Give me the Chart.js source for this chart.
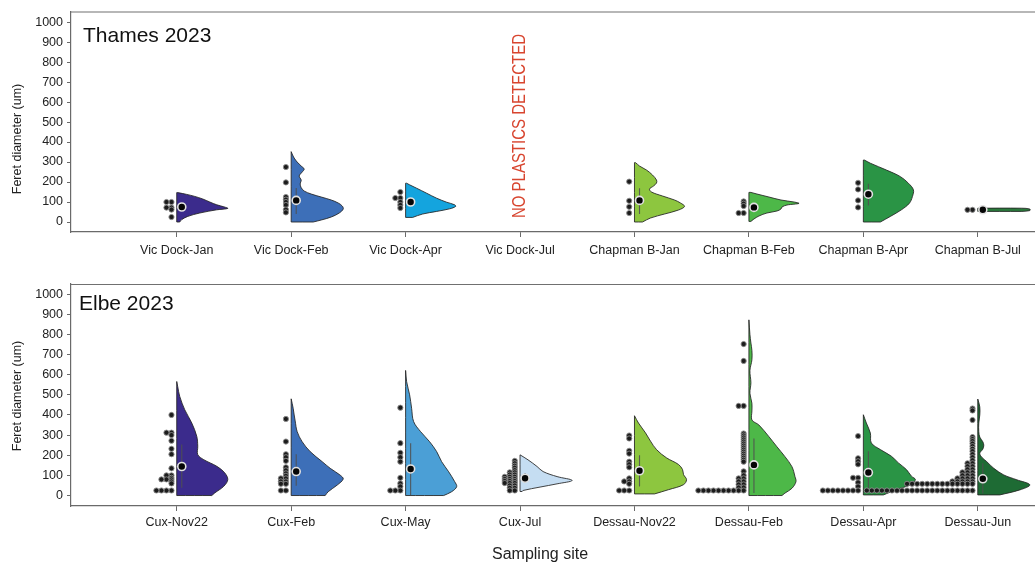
<!DOCTYPE html>
<html>
<head>
<meta charset="utf-8">
<script src="https://cdn.jsdelivr.net/npm/chart.js@4.4.1/dist/chart.umd.min.js"></script>
<style>
  html, body { margin: 0; padding: 0; background: #fff; overflow: hidden; }
  #wrap { position: relative; width: 1035px; height: 562px; }
  canvas { position: absolute; left: 0; display: block; }
  #thames { top: 0; }
  #elbe { top: 262px; }
</style>
</head>
<body>
<div id="wrap">
  <canvas id="thames" width="1035" height="262"></canvas>
  <canvas id="elbe" width="1035" height="300"></canvas>
</div>
<script>
// ---------- categories ----------
const thamesSites = ['Vic Dock-Jan', 'Vic Dock-Feb', 'Vic Dock-Apr', 'Vic Dock-Jul',
                     'Chapman B-Jan', 'Chapman B-Feb', 'Chapman B-Apr', 'Chapman B-Jul'];
const elbeSites = ['Cux-Nov22', 'Cux-Feb', 'Cux-May', 'Cux-Jul',
                   'Dessau-Nov22', 'Dessau-Feb', 'Dessau-Apr', 'Dessau-Jun'];
const yTickValues = [0, 100, 200, 300, 400, 500, 600, 700, 800, 900, 1000];

// ---------- particle sizes (Feret diameter, um) ----------
const ptsVicDockJan = [100, 100, 72, 72, 62, 25];
const ptsVicDockFeb = [275, 198, 125, 112, 100, 85, 62, 48];
const ptsVicDockApr = [150, 120, 120, 100, 85, 70];
const ptsChapmanJan = [202, 106, 76, 45];
const ptsChapmanFeb = [103, 92, 80, 45, 45];
const ptsChapmanApr = [196, 163, 108, 73];
const ptsChapmanJul = [61, 61];

const ptsCuxNov22 = [400, 312, 312, 300, 272, 232, 205, 135, 100, 100, 88, 80, 80, 80, 70, 60, 25, 25, 25, 25];
const ptsCuxFeb = [380, 268, 205, 190, 172, 140, 125, 110, 98, 85, 85, 70, 70, 58, 58, 25, 25];
const ptsCuxMay = [436, 260, 212, 190, 168, 88, 60, 45, 25, 25, 25];
const ptsCuxJul = [172, 160, 148, 138, 126, 115, 115, 104, 104, 93, 93, 93, 82, 82, 82,
                   72, 72, 72, 62, 62, 62, 50, 50, 38, 38, 25, 25];
const ptsDessauNov22 = [298, 283, 222, 208, 168, 155, 140, 85, 70, 70, 58, 25, 25, 25];
const ptsDessauFeb = [752, 668, 445, 445, 308, 298, 288, 278, 268, 258, 248, 238, 228, 218, 208,
                      198, 188, 178, 168, 120, 100, 85, 85, 70, 70, 55, 55, 40, 40,
                      25, 25, 25, 25, 25, 25, 25, 25, 25, 25];
const ptsDessauApr = [295, 185, 170, 155, 88, 88, 65, 45, 25, 25, 25, 25, 25, 25, 25, 25];
const ptsDessauJun = [432, 422, 375, 290, 280, 270, 258, 245, 232, 220, 205, 190, 175, 160, 160,
                      145, 145, 130, 130, 115, 115, 115, 100, 100, 100, 85, 85, 85, 85,
                      70, 70, 70, 70, 70,
                      58, 58, 58, 58, 58, 58, 58, 58, 58, 58, 58, 58, 58, 58,
                      25, 25, 25, 25, 25, 25, 25, 25, 25, 25, 25, 25, 25, 25, 25, 25, 25, 25, 25, 25, 25, 25];

// ---------- density profiles: [Feret diameter, relative density (52 = widest)] ----------
const densVicDockJan = [[0,3],[12,5],[28,11],[45,23],[61,40],[68,51],[76,47],[86,40],[100,33],[115,26],[128,18],[138,10],[147,1]];
const densVicDockFeb = [[0,22],[10,30],[25,40],[45,48],[65,52],[80,51],[95,47],[110,40],[125,30],[140,20],[155,13],[172,10],[190,9],[210,10],[230,8],[250,11],[265,13],[280,10],[300,6],[320,3],[340,1],[352,0]];
const densVicDockApr = [[23,7],[40,17],[53,31],[66,44],[78,50],[86,49],[99,41],[119,31],[144,21],[169,11],[186,4],[194,1]];
const densChapmanJan = [[0,8],[20,16],[40,30],[60,44],[78,50],[95,46],[110,40],[130,28],[150,17],[165,15],[180,19],[195,22],[210,22],[235,18],[260,12],[280,5],[297,1]];
const densChapmanFeb = [[3,2],[15,5],[30,10],[45,18],[55,28],[65,32],[75,33],[85,38],[93,50],[100,45],[110,32],[125,20],[140,8],[148,2]];
const densChapmanApr = [[0,17],[28,27],[61,38],[94,46],[127,49],[161,50],[194,45],[227,37],[260,23],[294,7],[310,1]];
const densChapmanJul = [[53,44],[57,52],[65,52],[69,44]];

const densCuxNov22 = [[0,35],[13,38],[46,47],[79,51],[112,48],[145,40],[178,27],[203,21],[245,21],[294,20],[360,15],[426,8],[492,3],[540,1],[566,0]];
const densCuxFeb = [[0,34],[19,37],[52,46],[82,52],[101,49],[135,39],[168,31],[218,19],[267,11],[317,6],[370,4],[400,3],[433,2],[480,0]];
const densCuxMay = [[0,38],[19,46],[44,51],[69,49],[118,43],[168,36],[218,31],[267,24],[317,15],[367,8],[433,6],[500,4],[566,1],[621,0]];
const densCuxJul = [[20,2],[25,3],[42,20],[58,37],[75,52],[94,37],[119,23],[144,17],[177,8],[202,0]];
const densDessauNov22 = [[8,20],[29,34],[54,49],[79,52],[104,49],[129,48],[154,44],[187,32],[228,22],[270,16],[311,11],[360,4],[396,0]];
const densDessauFeb = [[0,33],[12,36],[36,43],[69,47],[94,46],[143,43],[193,36],[242,28],[292,20],[350,10],[375,3],[420,3],[458,3],[508,1],[560,2],[620,1],[674,3],[720,3],[757,2],[800,1],[872,0]];
const densDessauApr = [[3,20],[29,33],[54,47],[79,52],[96,48],[129,43],[162,35],[195,28],[228,17],[261,8],[310,7],[360,3],[401,0]];
const densDessauJun = [[3,22],[28,42],[53,52],[78,39],[102,26],[135,16],[168,9],[190,4],[210,2],[230,5],[250,6],[267,5],[290,2],[317,1],[360,1],[400,2],[440,2],[479,0]];

// ---------- mean and interval per site ----------
const thamesMean = [75, 108, 100, null, 108, 73, 139, 61];
const thamesLow  = [62, 40, 88, null, 40, 58, 82, 60];
const thamesHigh = [88, 170, 115, null, 169, 90, 191, 62];
const elbeMean = [144, 119, 132, 86, 123, 152, 114, 83];
const elbeLow  = [38, 48, 2, 62, 45, 12, 25, 10];
const elbeHigh = [253, 205, 260, 112, 200, 283, 220, 160];

const thamesColors = ['#3b2b8c', '#3d6fb8', '#14a4de', null, '#8dc63f', '#4db848', '#2a9445', '#2b7a3c'];
const elbeColors   = ['#3b2b8c', '#3d6fb8', '#4b9fd6', '#c5ddf2', '#8dc63f', '#4db848', '#2a9445', '#1e6b34'];

const thamesPts = [ptsVicDockJan, ptsVicDockFeb, ptsVicDockApr, null, ptsChapmanJan, ptsChapmanFeb, ptsChapmanApr, ptsChapmanJul];
const thamesDens = [densVicDockJan, densVicDockFeb, densVicDockApr, null, densChapmanJan, densChapmanFeb, densChapmanApr, densChapmanJul];
const elbePts = [ptsCuxNov22, ptsCuxFeb, ptsCuxMay, ptsCuxJul, ptsDessauNov22, ptsDessauFeb, ptsDessauApr, ptsDessauJun];
const elbeDens = [densCuxNov22, densCuxFeb, densCuxMay, densCuxJul, densDessauNov22, densDessauFeb, densDessauApr, densDessauJun];

// ---------- layout constants (category units) ----------
const DENS_MAX = 52;
const HALF = 0.455;      // widest half-violin
const DOT_GAP = 0.046;   // first dot left of the site line
const DOT_STEP = 0.044;  // horizontal stacking step of equal values
const MEAN_DX = 0.044;   // mean marker right of the site line

Chart.defaults.font.family = '"Liberation Sans", Arial, sans-serif';
Chart.defaults.color = '#222';

// half violin outline: site line -> density edge -> back down the site line
function violinPoints(i, prof) {
  const vmin = prof[0][0], vmax = prof[prof.length - 1][0];
  const pts = [{x: i, y: vmin}, {x: i, y: vmin}];
  prof.forEach(([v, d], k) => {
    const p = {x: i + d / DENS_MAX * HALF, y: v};
    pts.push(p);
    if (k === 0) pts.push({x: p.x, y: p.y});
  });
  pts.push({x: i, y: vmax}, {x: i, y: vmax}, {x: i, y: vmin}, {x: i, y: vmin});
  return pts;
}

// dot plot: equal values stack leftwards from the site line
function dotPoints(i, values) {
  const seen = {};
  return values.map(v => {
    const k = seen[v] = (seen[v] || 0) + 1;
    return {x: i - DOT_GAP - (k - 1) * DOT_STEP, y: v};
  });
}

const decor = {
  id: 'decor',
  afterDraw(chart, args, o) {
    const {ctx, chartArea: a} = chart;
    ctx.save();
    ctx.strokeStyle = '#707070';
    ctx.lineWidth = 1.2;
    ctx.beginPath();
    ctx.moveTo(a.left, a.top + 0.5);
    ctx.lineTo(chart.width, a.top + 0.5);
    ctx.stroke();

    ctx.fillStyle = '#111';
    ctx.font = '21px "Liberation Sans", Arial, sans-serif';
    ctx.textAlign = 'left';
    ctx.textBaseline = 'alphabetic';
    ctx.fillText(o.title, o.titleX, o.titleY);

    ctx.save();
    ctx.translate(18, o.yTitleY);
    ctx.rotate(-Math.PI / 2);
    ctx.font = '12.5px "Liberation Sans", Arial, sans-serif';
    ctx.textAlign = 'center';
    ctx.textBaseline = 'middle';
    ctx.fillStyle = '#222';
    ctx.fillText('Feret diameter (um)', 0, 0);
    ctx.restore();

    if (o.note) {
      const x = chart.scales.x.getPixelForValue(o.note.site);
      const y = chart.scales.y.getPixelForValue(o.note.at);
      ctx.save();
      ctx.translate(x, y);
      ctx.rotate(-Math.PI / 2);
      ctx.font = '18px "Liberation Sans", Arial, sans-serif';
      const w = ctx.measureText(o.note.text).width;
      ctx.scale(o.note.length / w, 1);
      ctx.fillStyle = '#d8452f';
      ctx.textAlign = 'center';
      ctx.textBaseline = 'middle';
      ctx.fillText(o.note.text, 0, 0);
      ctx.restore();
    }
    if (o.xTitle) {
      ctx.font = '16px "Liberation Sans", Arial, sans-serif';
      ctx.fillStyle = '#222';
      ctx.textAlign = 'center';
      ctx.textBaseline = 'alphabetic';
      ctx.fillText(o.xTitle, o.xTitleX, o.xTitleY);
    }
    ctx.restore();
  }
};

function buildPanel(id, sites, dens, pts, mean, low, high, colors, cfg) {
  const datasets = [];
  const dots = [], means = [];
  sites.forEach((s, i) => {
    if (dens[i]) {
      datasets.push({
        type: 'line', data: violinPoints(i, dens[i]),
        backgroundColor: colors[i], borderColor: 'rgba(35,35,35,0.85)', borderWidth: 1,
        fill: 'shape', tension: 0.35, pointRadius: 0, order: 3
      });
    }
    if (mean[i] != null) {
      datasets.push({
        type: 'line', data: [{x: i + MEAN_DX, y: low[i]}, {x: i + MEAN_DX, y: high[i]}],
        borderColor: 'rgba(80,80,80,0.9)', borderWidth: 1.1, pointRadius: 0, fill: false, order: 2
      });
      means.push({x: i + MEAN_DX, y: mean[i]});
    }
    if (pts[i]) dots.push(...dotPoints(i, pts[i]));
  });
  datasets.push({type: 'scatter', data: dots, pointRadius: 2.6, pointBackgroundColor: '#1c1c1c',
                 pointBorderColor: '#8c8c8c', pointBorderWidth: 0.9, order: 1});
  datasets.push({type: 'scatter', data: means, pointRadius: 4, pointBackgroundColor: '#050505',
                 pointBorderColor: '#e2e2e2', pointBorderWidth: 1.6, order: 0});

  return new Chart(document.getElementById(id), {
    type: 'scatter',
    data: {datasets},
    plugins: [decor],
    options: {
      responsive: false, animation: false, devicePixelRatio: 1,
      layout: {autoPadding: false, padding: {top: cfg.padTop, left: 0, right: 0, bottom: 0}},
      plugins: {legend: {display: false}, tooltip: {enabled: false}, decor: cfg.decor},
      scales: {
        x: {
          type: 'linear', min: -0.924, max: 7.5,
          afterBuildTicks: s => { s.ticks = sites.map((_, i) => ({value: i})); },
          afterFit: s => { s.height = cfg.xHeight; },
          ticks: {callback: v => sites[v], autoSkip: false, maxRotation: 0, minRotation: 0,
                  padding: cfg.labelPad, color: '#222', font: {size: 12.5}},
          grid: {drawOnChartArea: false, drawTicks: true, tickLength: 5, color: '#6a6a6a', lineWidth: 1},
          border: {display: true, color: '#6a6a6a', width: 1.2}
        },
        y: {
          type: 'linear', min: cfg.yMin, max: cfg.yMax,
          afterBuildTicks: s => { s.ticks = yTickValues.map(v => ({value: v})); },
          afterFit: s => { s.width = 71; },
          ticks: {callback: v => String(v), padding: 4, color: '#222', font: {size: 12.5}},
          grid: {drawOnChartArea: false, drawTicks: true, tickLength: 4, color: '#6a6a6a', lineWidth: 1},
          border: {display: true, color: '#6a6a6a', width: 1.2}
        }
      }
    }
  });
}

buildPanel('thames', thamesSites, thamesDens, thamesPts, thamesMean, thamesLow, thamesHigh, thamesColors, {
  padTop: 11, xHeight: 30, labelPad: 6, yMin: -50, yMax: 1053,
  decor: {title: 'Thames 2023', titleX: 83, titleY: 41.5, yTitleY: 139,
          note: {text: 'NO PLASTICS DETECTED', site: 3, at: 480, length: 184}}
});

buildPanel('elbe', elbeSites, elbeDens, elbePts, elbeMean, elbeLow, elbeHigh, elbeColors, {
  padTop: 22, xHeight: 56, labelPad: 4, yMin: -52, yMax: 1050,
  decor: {title: 'Elbe 2023', titleX: 79, titleY: 47.5, yTitleY: 134,
          xTitle: 'Sampling site', xTitleX: 540, xTitleY: 297}
});
</script>
</body>
</html>
